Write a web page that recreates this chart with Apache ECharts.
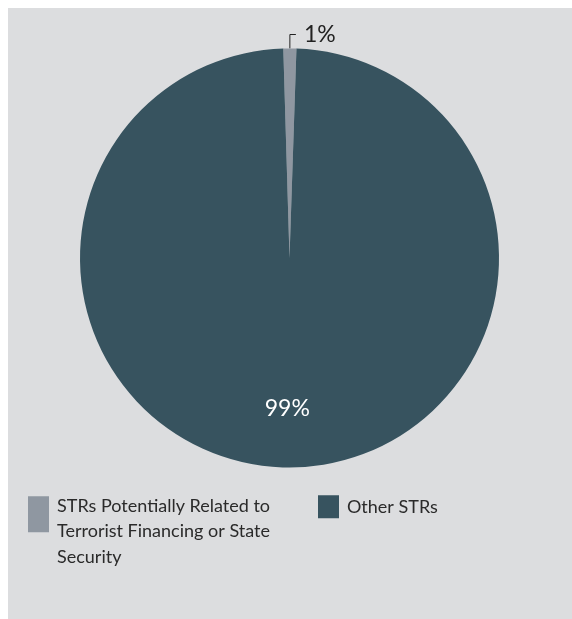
<!DOCTYPE html>
<html>
<head>
<meta charset="utf-8">
<style>
  html, body { margin: 0; padding: 0; background: #ffffff; }
  #chart { position: absolute; left: 8px; top: 8px; width: 564px; height: 611px; }
</style>
<script src="https://cdn.jsdelivr.net/npm/echarts@6/dist/echarts.min.js"></script>
</head>
<body>
<div id="chart"></div>
<script>
// Share of suspicious transaction reports
const categories = [
  'STRs Potentially Related to\nTerrorist Financing or State\nSecurity',
  'Other STRs'
];
const values = [1, 99];
const colors = ['#8f97a1', '#37535f'];

const FONT = 'Lato';

const chart = echarts.init(document.getElementById('chart'), null, { renderer: 'canvas' });

const pieData = categories.map((name, i) => ({
  name: name,
  value: values[i],
  itemStyle: { color: colors[i] },
  label: i === 0
    ? { position: 'outside', color: '#222222' }
    : { position: 'inside', color: '#ffffff' },
  labelLine: { show: i === 0 }
}));

const legendText = {
  fontFamily: FONT,
  fontSize: 18,
  color: '#2a2a2a',
  lineHeight: 25.5,
  padding: [0, 0, 0, 3]
};

chart.setOption({
  backgroundColor: '#dcdddf',
  animation: false,
  legend: [
    {
      // the wrapped label hangs from the top of its swatch
      data: [categories[0]],
      left: 20,
      top: 451,
      padding: 0,
      orient: 'vertical',
      icon: 'rect',
      itemWidth: 21,
      itemHeight: 36,
      selectedMode: false,
      formatter: (name) => '{gap| }\n' + name,
      textStyle: Object.assign({}, legendText, {
        rich: { gap: { lineHeight: 34, fontSize: 10 } }
      })
    },
    {
      data: [categories[1]],
      left: 310,
      top: 486,
      padding: 0,
      orient: 'vertical',
      icon: 'rect',
      itemWidth: 21,
      itemHeight: 23,
      selectedMode: false,
      textStyle: legendText
    }
  ],
  series: [
    {
      type: 'pie',
      center: [281.5, 250],
      radius: [0, 209.5],
      startAngle: 91.7,
      clockwise: true,
      avoidLabelOverlap: false,
      data: pieData,
      itemStyle: { borderWidth: 0 },
      label: {
        formatter: (p) => p.value + '%',
        fontFamily: FONT,
        fontSize: 23,
        distanceToLabelLine: 8
      },
      labelLine: {
        length: 14,
        length2: 6,
        smooth: false,
        lineStyle: { color: '#222222', width: 1 }
      },
      labelLayout: (params) => params.dataIndex === 1 ? { dx: -2, dy: 43 } : {},
      emphasis: { disabled: true }
    }
  ]
});
</script>
</body>
</html>
